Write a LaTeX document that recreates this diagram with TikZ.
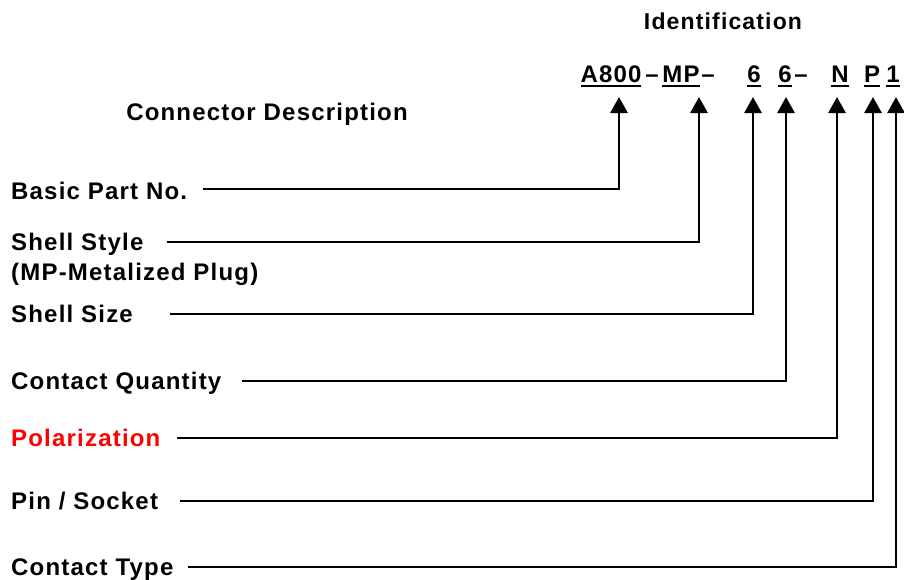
\documentclass[tikz,border=0pt]{standalone}
\usepackage{fontspec}
\setmainfont{Liberation Sans}[LetterSpace=5]
\usetikzlibrary{arrows.meta}
\newcommand\ulc[1]{\setbox0\hbox{#1}\rlap{\rule[-4.5pt]{\wd0}{1.8pt}}\box0}

\begin{document}
\begin{tikzpicture}[x=1pt,y=-1pt,
  every node/.style={inner sep=0pt,font=\bfseries\fontsize{24}{28}\selectfont},
  lbl/.style={anchor=base west},
  code/.style={anchor=base},
  conn/.style={line width=2.8pt,-{Triangle[width=17pt,length=16pt]}}]
\useasboundingbox (0,0) rectangle (904,579);
% headings
\node(ID) [code,font=\bfseries\fontsize{23}{27}\selectfont] at (723,29) {Identification};
\node(CD) [code] at (267,120) {Connector Description};

% part number
\node(A)  [code] at (611,82) {\ulc{A800}};
\node(D1) [code] at (652,82) {\textendash};
\node(MP) [code] at (681,82) {\ulc{MP}};
\node(D2) [code] at (708,82) {\textendash};
\node(S)  [code] at (754,82) {\ulc{6}};
\node(Q)  [code] at (785,82) {\ulc{6}};
\node(D3) [code] at (801,82) {\textendash};
\node(N)  [code] at (840,82) {\ulc{N}};
\node(P)  [code] at (872,82) {\ulc{P}};
\node(T)  [code] at (893,82) {\ulc{1}};

% descriptions
\node(LA)  [lbl] at (11,199) {Basic Part No.};
\node(LB)  [lbl] at (11,250) {Shell Style};
\node(LB2) [lbl] at (11,280) {(MP-Metalized Plug)};
\node(LC)  [lbl] at (11,322) {Shell Size};
\node(LD)  [lbl] at (11,389) {Contact Quantity};
\node(LE)  [lbl,red] at (11,446) {Polarization};
\node(LF)  [lbl] at (11,509) {Pin / Socket};
\node(LG)  [lbl] at (11,575) {Contact Type};

\coordinate(a) at (203,189);
\coordinate(b) at (167,242);
\coordinate(c) at (170,314);
\coordinate(d) at (242,381);
\coordinate(e) at (177,438);
\coordinate(f) at (180,501);
\coordinate(g) at (188,567);

\draw[conn] (a) -| ([xshift=8pt,yshift=-15pt]A.base);
\draw[conn] (b) -| ([xshift=18pt,yshift=-15pt]MP.base);
\draw[conn] (c) -| ([xshift=-1pt,yshift=-15pt]S.base);
\draw[conn] (d) -| ([xshift=1pt,yshift=-15pt]Q.base);
\draw[conn] (e) -| ([xshift=-3pt,yshift=-15pt]N.base);
\draw[conn] (f) -| ([xshift=1pt,yshift=-15pt]P.base);
\draw[conn] (g) -| ([xshift=3pt,yshift=-15pt]T.base);
\end{tikzpicture}
\end{document}
